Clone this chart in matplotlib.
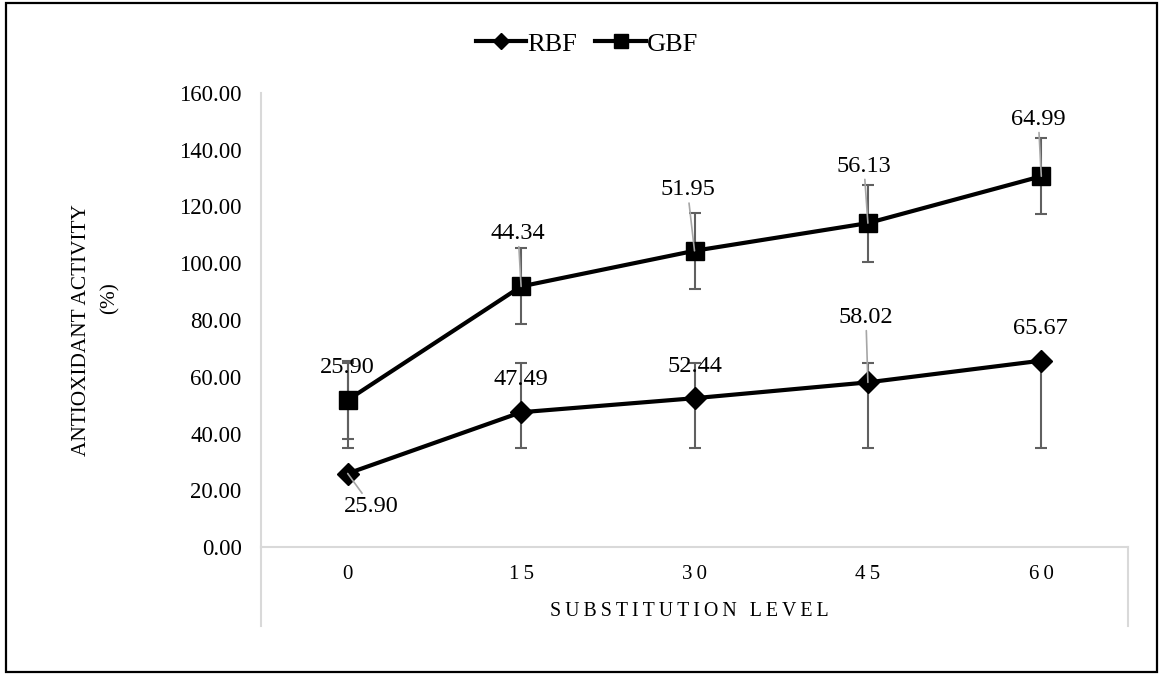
import numpy as np
import matplotlib
matplotlib.use("Agg")
from matplotlib import pyplot as plt
from matplotlib.lines import Line2D
from matplotlib.patches import Rectangle

# data
levels = ["0", "15", "30", "45", "60"]
rbf = [25.90, 47.49, 52.44, 58.02, 65.67]
gbf = [25.90, 44.34, 51.95, 56.13, 64.99]
rbf_err_low = [35.0, 35.0, 35.0, 35.0, 35.0]
rbf_err_high = [65.0, 65.0, 65.0, 65.0, 65.0]
gbf_err = [13.6, 13.4, 13.4, 13.6, 13.4]
yticks = [0, 20, 40, 60, 80, 100, 120, 140, 160]

plt.rcParams['font.family'] = ['Liberation Serif', 'DejaVu Serif']

W, H = 1160, 675
fig = plt.figure(figsize=(W / 100, H / 100), dpi=100)
ax = fig.add_axes([261 / W, 1 - 547 / H, (1128 - 261) / W, (547 - 93) / H])

x = np.arange(len(levels))
rbf = np.array(rbf)
gbf_top = rbf + np.array(gbf)  # stacked line (Excel stacked)

errc = '#606060'
# error bars (drawn manually, RBF bars do not bracket the point)
ax.vlines(x, rbf_err_low, rbf_err_high, color=errc, lw=1.5, zorder=2)
ax.plot(x, rbf_err_low, ls='none', marker='_', ms=9, mew=1.5, color=errc, zorder=2)
ax.plot(x, rbf_err_high, ls='none', marker='_', ms=9, mew=1.5, color=errc, zorder=2)
ax.errorbar(x, gbf_top, yerr=gbf_err, fmt='none', ecolor=errc, elinewidth=1.5,
            capsize=4.5, capthick=1.5, zorder=2)

ax.plot(x, rbf, color='black', lw=3, marker='D', ms=11.5, zorder=3, label='RBF')
ax.plot(x, gbf_top, color='black', lw=3, marker='s', ms=12.5, zorder=3, label='GBF')

# data labels (offsets in pixels, y up)
rbf_off = [(24, -33), (0, 33), (0, 32), (-2, 65), (-1, 32)]
gbf_off = [(0, 33), (-3, 53), (-7, 61), (-4, 57), (-3, 57)]


def put_labels(xs, ys, texts, offs):
    for xi, yi, t, (dx, dy) in zip(xs, ys, texts, offs):
        far = np.hypot(dx, dy) > 38
        ax.annotate('%.2f' % t, (xi, yi), xytext=(dx, dy), textcoords='offset pixels',
                    ha='center', va='center', fontsize=17.5, zorder=5,
                    arrowprops=dict(arrowstyle='-', color='#a6a6a6', lw=1.2,
                                    shrinkA=0, shrinkB=0) if far else None)


put_labels(x, rbf, rbf, rbf_off)
put_labels(x, gbf_top, gbf, gbf_off)

ax.set_xlim(-0.5, len(levels) - 0.5)
ax.set_ylim(0, 160)
ax.set_yticks(yticks)
ax.set_yticklabels(['%.2f' % v for v in yticks], fontsize=16.5)
ax.set_xticks(x)
ax.set_xticklabels(['\u2009'.join(s) for s in levels], fontsize=15)
ax.tick_params(axis='y', length=0, pad=14)
ax.tick_params(axis='x', length=0, pad=13)

for s in ['top', 'right']:
    ax.spines[s].set_visible(False)
for s in ['left', 'bottom']:
    ax.spines[s].set_color('#d9d9d9')
    ax.spines[s].set_linewidth(1.5)
ext = -(626 - 547) / (547 - 93)
for xa in [0, 1]:
    ax.add_line(Line2D([xa, xa], [0, ext], transform=ax.transAxes, color='#d9d9d9',
                       lw=1.5, clip_on=False))

fig.text(689 / W, 1 - 612 / H, '\u2009'.join('SUBSTITUTION') + '\u2009 \u2009' + '\u2009'.join('LEVEL'),
         ha='center', va='center', fontsize=14.3)
fig.text(82 / W, 1 - 330 / H, 'ANTIOXIDANT ACTIVITY', rotation=90, ha='center', va='center',
         fontsize=15.3)
fig.text(110 / W, 1 - 298 / H, '(%)', rotation=90, ha='center', va='center', fontsize=15.3)

fig.legend(loc='center', bbox_to_anchor=(587 / W, 1 - 44 / H), ncol=2, frameon=False,
           fontsize=19, handlelength=1.9, handletextpad=0.05, columnspacing=0.7,
           markerscale=0.75)

fig.patches.append(Rectangle((6 / W, 3 / H), (1157 - 6) / W, (672 - 3) / H,
                             transform=fig.transFigure, fill=False, edgecolor='black', lw=1.6))

fig.savefig('out.png', dpi=100)
